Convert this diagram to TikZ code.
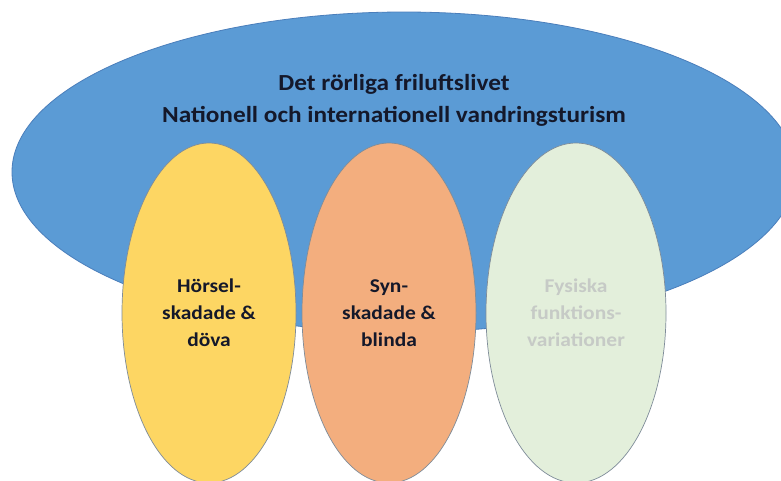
\documentclass[tikz,border=0pt]{standalone}
\usepackage{fontspec}
\setmainfont{Carlito}[FakeStretch=1.1]
\usetikzlibrary{shapes.geometric}
\definecolor{bigblue}{HTML}{5B9BD5}
\definecolor{bigline}{HTML}{4A7EBB}
\definecolor{yel}{HTML}{FDD663}
\definecolor{ora}{HTML}{F3AE7E}
\definecolor{grn}{HTML}{E3EFDB}
\definecolor{smline}{HTML}{7F8C99}
\definecolor{txtdark}{HTML}{14182A}
\definecolor{txtgray}{HTML}{C6CAC6}
\tikzset{
  bigoval/.style={ellipse, draw=bigline, fill=bigblue, line width=0.8pt, inner sep=0pt},
  smalloval/.style={ellipse, draw=smline, line width=0.7pt, inner sep=0pt,
     minimum width=174pt, minimum height=340pt, align=center,
     font=\fontsize{19.5}{27}\selectfont\bfseries, text=txtdark},
  titletext/.style={align=center, font=\fontsize{23}{32}\selectfont\bfseries, text=txtdark, inner sep=0pt}
}
\begin{document}
\begin{tikzpicture}[x=1pt,y=-1pt]
\useasboundingbox (0,0) rectangle (781,480);
\fill[white] (0,0) rectangle (781,480);
\begin{scope}
\clip (0,0) rectangle (781,480);
\node[bigoval, minimum width=784pt, minimum height=320pt] (big) at (404,172) {};
\node[titletext] (title) at (394,100) {Det rörliga friluftslivet\\Nationell och internationell vandringsturism};
\node[smalloval, fill=yel] (hor) at (209,313) {Hörsel-\\skadade \&\\döva};
\node[smalloval, fill=ora] (syn) at (389,313) {Syn-\\skadade \&\\blinda};
\node[smalloval, fill=grn, minimum width=180pt, text=txtgray] (fys) at (576,313) {Fysiska\\funktions-\\variationer};
\end{scope}
\end{tikzpicture}
\end{document}
